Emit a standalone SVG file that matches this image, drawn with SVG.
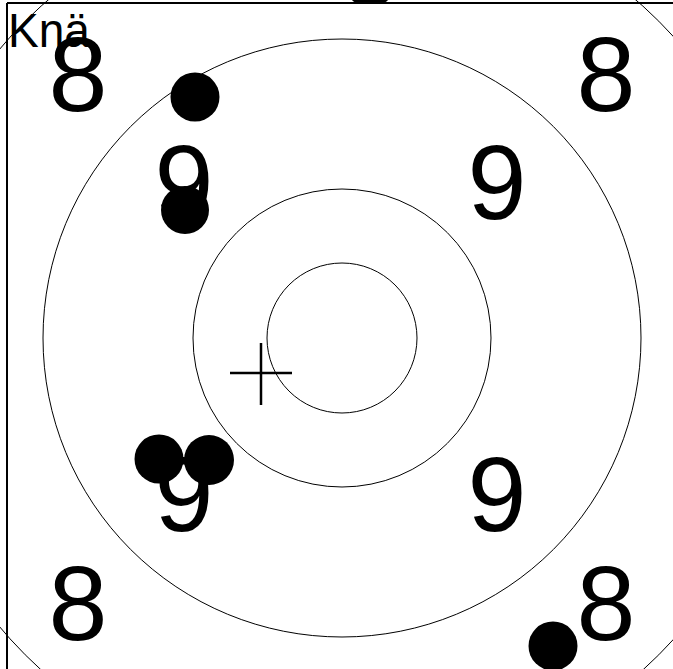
<svg xmlns="http://www.w3.org/2000/svg" width="673" height="669" viewBox="0 0 673 669">
<style>
.ring{fill:none;stroke:#000;stroke-width:1}
.frame{stroke:#000;stroke-width:2}
.num{font-family:"Liberation Sans",Arial,sans-serif;font-size:106px;fill:#000;text-anchor:middle}
.lbl{font-family:"Liberation Sans",Arial,sans-serif;font-size:48px;fill:#000}
.shot{fill:#000}
.cross{stroke:#000;stroke-width:2.5}
</style>
<rect width="673" height="669" fill="#fff"/>
<g id="rings">
<circle class="ring" cx="342" cy="338" r="448"/>
<circle class="ring" cx="342" cy="338" r="299"/>
<circle class="ring" cx="342" cy="338" r="149"/>
<circle class="ring" cx="342" cy="338" r="75"/>
</g>
<g id="frame">
<line class="frame" x1="7" y1="3" x2="673" y2="3"/>
<line class="frame" x1="7" y1="3" x2="7" y2="669"/>
<path d="M352 0 H388 Q386 3 381 3 H359 Q354 3 352 0 Z" fill="#000"/>
</g>
<g id="numbers">
<text class="num" x="78" y="111">8</text>
<text class="num" x="606" y="111">8</text>
<text class="num" x="78" y="640">8</text>
<text class="num" x="606" y="640">8</text>
<text class="num" x="184" y="219">9</text>
<text class="num" x="497" y="219">9</text>
<text class="num" x="184" y="531">9</text>
<text class="num" x="497" y="531">9</text>
</g>
<text id="label" class="lbl" x="8" y="47" textLength="82" lengthAdjust="spacingAndGlyphs">Knä</text>
<g id="cross">
<line class="cross" x1="230" y1="373" x2="292" y2="373"/>
<line class="cross" x1="261" y1="343" x2="261" y2="405"/>
</g>
<g id="shots">
<circle class="shot" cx="195" cy="97" r="24.5"/>
<circle class="shot" cx="185" cy="210" r="24"/>
<circle class="shot" cx="159" cy="459" r="24.5"/>
<circle class="shot" cx="209" cy="460" r="25"/>
<circle class="shot" cx="553" cy="646" r="24.5"/>
</g>
</svg>
